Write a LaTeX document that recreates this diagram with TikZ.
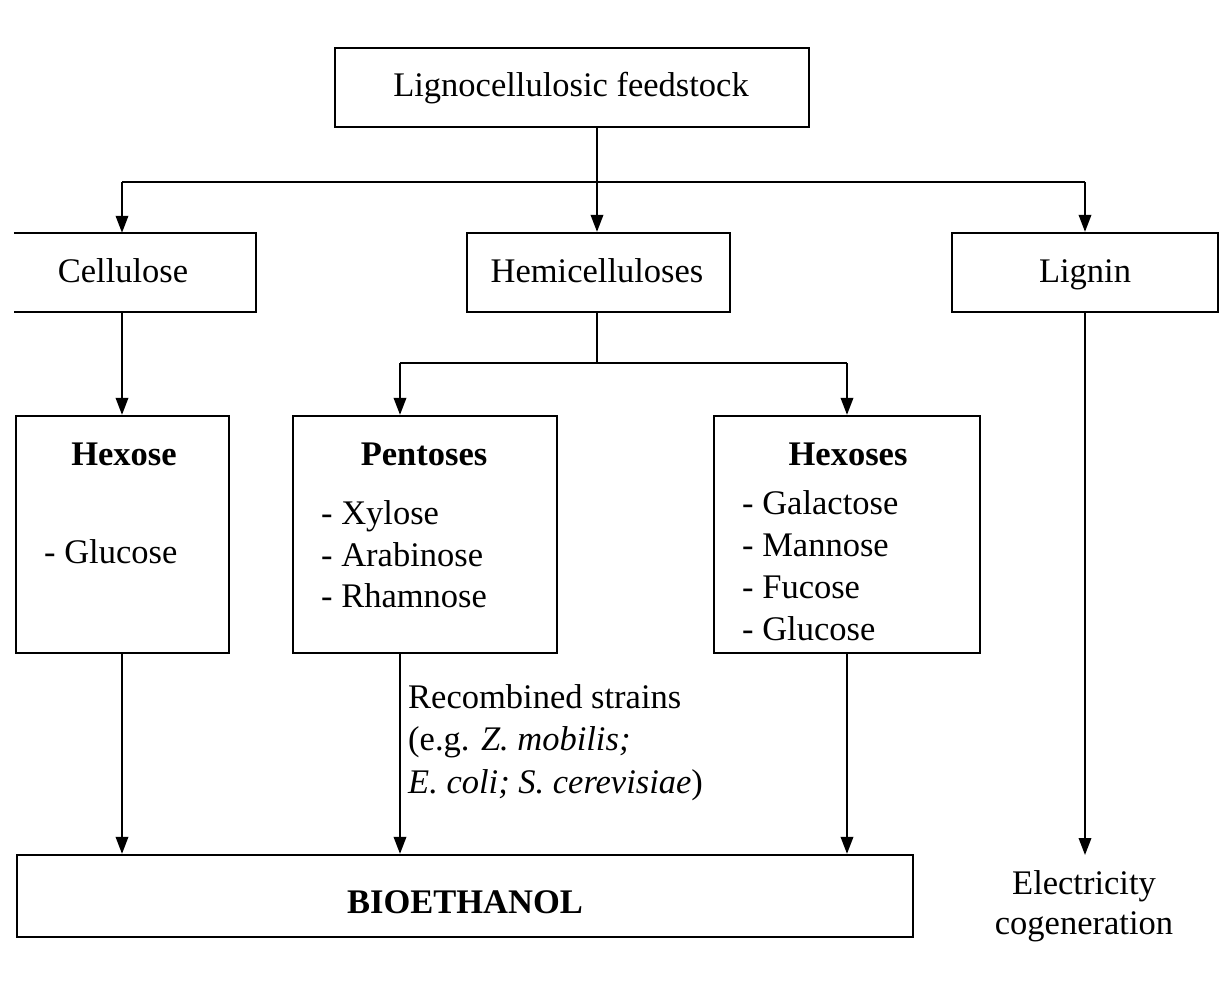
\documentclass[tikz,border=0pt]{standalone}
\usepackage{fontspec}
\setmainfont{Liberation Serif}
\usetikzlibrary{arrows.meta}

\begin{document}
\begin{tikzpicture}[x=1pt,y=-1pt,
  box/.style={draw, line width=2.3pt, inner sep=0pt},
  txt/.style={inner sep=0pt, font=\fontsize{34.5}{41}\selectfont},
  link/.style={line width=1.9pt},
  flow/.style={line width=1.9pt, -{Triangle[length=17pt,width=12.5pt]}}]
\useasboundingbox (0,0) rectangle (1229,992);

% boxes
\node[box, minimum width=474pt, minimum height=79pt] (feed) at (572,87.5) {};
\node[inner sep=0pt, minimum width=242pt, minimum height=79pt] (cell) at (135,272.5) {};
\draw[line width=2.3pt] (cell.north west) -- (cell.north east) -- (cell.south east) -- (cell.south west);
\node[box, minimum width=263pt, minimum height=79pt] (hemi) at (598.5,272.5) {};
\node[box, minimum width=266pt, minimum height=79pt] (lig) at (1085,272.5) {};
\node[box, minimum width=213pt, minimum height=237pt] (hex) at (122.5,534.5) {};
\node[box, minimum width=264pt, minimum height=237pt] (pent) at (425,534.5) {};
\node[box, minimum width=266pt, minimum height=237pt] (hexs) at (847,534.5) {};
\node[box, minimum width=896pt, minimum height=82pt] (bio) at (465,896) {};

% box texts
\node[txt, anchor=base] (tfeed) at (571,97) {Lignocellulosic feedstock};
\node[txt, anchor=base] (tcell) at (123,283) {Cellulose};
\node[txt, anchor=base] (themi) at (597,283) {Hemicelluloses};
\node[txt, anchor=base] (tlig) at (1085,283) {Lignin};

\node[txt, anchor=base, font=\fontsize{34.5}{41}\selectfont\bfseries] (thex) at (124,465) {Hexose};
\node[txt, anchor=base west] (hex1) at (44,563) {- Glucose};

\node[txt, anchor=base, font=\fontsize{34.5}{41}\selectfont\bfseries] (tpent) at (424,465) {Pentoses};
\node[txt, anchor=base west] (pent1) at (321,524) {- Xylose};
\node[txt, anchor=base west] (pent2) at (321,566) {- Arabinose};
\node[txt, anchor=base west] (pent3) at (321,607) {- Rhamnose};

\node[txt, anchor=base, font=\fontsize{34.5}{41}\selectfont\bfseries] (thexs) at (848,465) {Hexoses};
\node[txt, anchor=base west] (hexs1) at (742,514) {- Galactose};
\node[txt, anchor=base west] (hexs2) at (742,556) {- Mannose};
\node[txt, anchor=base west] (hexs3) at (742,598) {- Fucose};
\node[txt, anchor=base west] (hexs4) at (742,640) {- Glucose};

\node[txt, anchor=base, font=\fontsize{34.5}{41}\selectfont\bfseries] (tbio) at (465,913) {BIOETHANOL};

% strain note beside the pentose arrow
\node[txt, anchor=base west] (rec1) at (408,708) {Recombined strains};
\node[txt, anchor=base west] (rec2) at (408,750) {(e.g. \textit{Z. mobilis;}};
\node[txt, anchor=base west] (rec3) at (408,793) {\textit{E. coli; S. cerevisiae})};

% lignin output
\node[txt, anchor=base] (elec1) at (1084,894) {Electricity};
\node[txt, anchor=base] (elec2) at (1084,934) {cogeneration};

% junction points
\coordinate (split) at (597,182);
\coordinate (jl) at (122,182);
\coordinate (jr) at (1085,182);
\coordinate (hs) at (597,363);
\coordinate (pl) at (400,363);
\coordinate (hr) at (847,363);
\coordinate (lend) at (1085,855);

% first split
\draw[link] (feed.south -| split) -- (split);
\draw[link] (jl) -- (jr);
\draw[flow] (jl) -- (jl |- cell.north);
\draw[flow] (split) -- (split |- hemi.north);
\draw[flow] (jr) -- (lig.north);

% cellulose branch
\draw[flow] (jl |- cell.south) -- (jl |- hex.north);

% hemicellulose branch
\draw[link] (hemi.south -| hs) -- (hs);
\draw[link] (pl) -- (hr);
\draw[flow] (pl) -- (pl |- pent.north);
\draw[flow] (hr) -- (hr |- hexs.north);

% to bioethanol
\draw[flow] (jl |- hex.south) -- (jl |- bio.north);
\draw[flow] (pl |- pent.south) -- (pl |- bio.north);
\draw[flow] (hr |- hexs.south) -- (hr |- bio.north);

% lignin to electricity
\draw[flow] (lig.south) -- (lend);
\end{tikzpicture}
\end{document}
